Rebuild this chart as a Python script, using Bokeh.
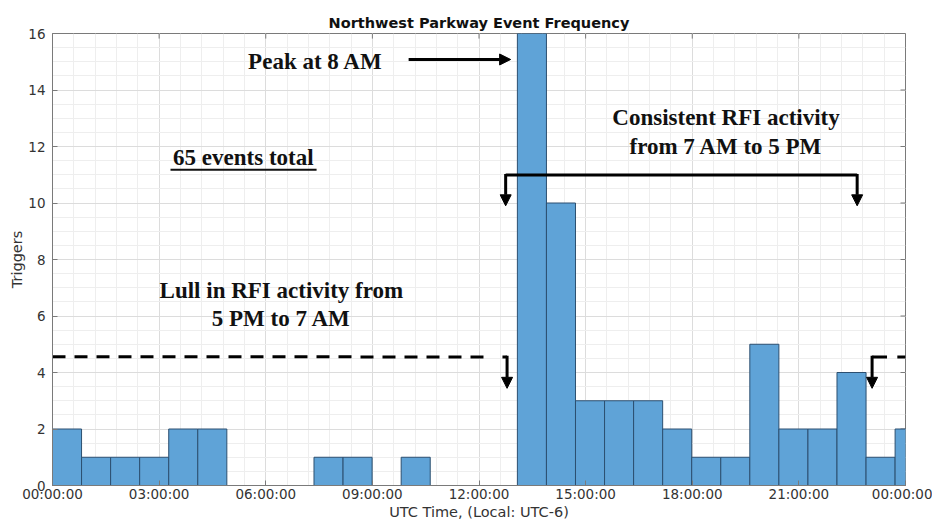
import numpy as np
from bokeh.plotting import figure
from bokeh.models import Range1d, FixedTicker, Label, Arrow, NormalHead
from bokeh.embed import file_html
from bokeh.resources import INLINE

# ---------------- data ----------------
counts = [2, 1, 1, 1, 2, 2, 0, 0, 0, 1, 1, 0, 1, 0, 0, 0,
          16, 10, 3, 3, 3, 2, 1, 1, 5, 2, 2, 4, 1, 2]
bin_width_hours = 0.8175
tick_hours = [0, 3, 6, 9, 12, 15, 18, 21, 24]
tick_labels = ["00:00:00", "03:00:00", "06:00:00", "09:00:00", "12:00:00",
               "15:00:00", "18:00:00", "21:00:00", "00:00:00"]
y_ticks = [0, 2, 4, 6, 8, 10, 12, 14, 16]

title_text = "Northwest Parkway Event Frequency"
x_label = "UTC Time, (Local: UTC-6)"
y_label = "Triggers"

lefts = [i * bin_width_hours for i in range(len(counts))]
rights = [(i + 1) * bin_width_hours for i in range(len(counts))]

AX = "#7a7a7a"
TXT = "#333333"

p = figure(width=932, height=522, output_backend="svg", toolbar_location=None,
           x_range=Range1d(0, 24), y_range=Range1d(0, 16),
           title=title_text, min_border_left=52, min_border_right=27,
           min_border_top=33, min_border_bottom=0)

p.title.align = "center"
p.title.text_font = "DejaVu Sans"
p.title.text_font_size = "14.5px"
p.title.text_font_style = "bold"
p.title.text_color = "#111111"
p.title.standoff = 6

p.outline_line_color = AX
p.outline_line_width = 1
p.background_fill_color = "white"
p.border_fill_color = "white"

xt = FixedTicker(ticks=tick_hours, minor_ticks=list(np.arange(0, 24.0001, 0.6)))
yt = FixedTicker(ticks=y_ticks, minor_ticks=list(np.arange(0, 16.0001, 0.5)))

p.xaxis.ticker = xt
p.yaxis.ticker = yt
p.xaxis.major_label_overrides = {h: l for h, l in zip(tick_hours, tick_labels)}

for ax in (p.xaxis[0], p.yaxis[0]):
    ax.axis_line_color = AX
    ax.major_tick_line_color = AX
    ax.major_tick_in = 5
    ax.major_tick_out = 0
    ax.minor_tick_in = 0
    ax.minor_tick_out = 0
    ax.major_label_text_font = "DejaVu Sans"
    ax.major_label_text_font_size = "13.5px"
    ax.major_label_text_color = TXT
    ax.axis_label_text_font = "DejaVu Sans"
    ax.axis_label_text_font_size = "14.5px"
    ax.axis_label_text_font_style = "normal"
    ax.axis_label_text_color = TXT

p.xaxis.axis_label = x_label
p.yaxis.axis_label = y_label
p.xaxis.major_label_standoff = 0
p.xaxis.axis_label_standoff = -1
p.yaxis.major_label_standoff = 7
p.yaxis.axis_label_standoff = 0

p.xgrid.grid_line_color = "#dcdcdc"
p.ygrid.grid_line_color = "#dcdcdc"
p.xgrid.minor_grid_line_color = "#eeeeee"
p.ygrid.minor_grid_line_color = "#eeeeee"

# box tick marks on top and right edges (from the tick lists)
p.segment(x0=tick_hours, y0=[16] * len(tick_hours), x1=tick_hours,
          y1=[16 - 0.18] * len(tick_hours), line_color=AX, line_width=1)
p.segment(x0=[24] * len(y_ticks), y0=y_ticks, x1=[24 - 0.14] * len(y_ticks),
          y1=y_ticks, line_color=AX, line_width=1)

# bars
p.quad(left=lefts, right=rights, bottom=0, top=counts,
       fill_color="#5fa3d7", line_color="#2c4f70", line_width=1)

# ---------------- annotations ----------------
FONT = "Liberation Serif"
FS = "23px"


def lab(x, y, t):
    p.add_layout(Label(x=x, y=y, text=t, text_font=FONT, text_font_size=FS,
                       text_font_style="bold", text_color="#111111",
                       text_align="center", text_baseline="middle"))


lab(7.40, 15.02, "Peak at 8 AM")
lab(18.95, 13.02, "Consistent RFI activity")
lab(18.95, 11.99, "from 7 AM to 5 PM")
lab(5.37, 11.62, "65 events total")
lab(6.44, 6.92, "Lull in RFI activity from")
lab(6.44, 5.92, "5 PM to 7 AM")

# underline
p.line([3.32, 7.43], [11.18, 11.18], line_color="#111111", line_width=2)


def arrow(x0, y0, x1, y1):
    p.add_layout(Arrow(x_start=x0, y_start=y0, x_end=x1, y_end=y1,
                       line_color="black", line_width=3,
                       end=NormalHead(size=11, line_color="black", fill_color="black",
                                      line_width=1)))


# peak arrow
arrow(10.02, 15.08, 12.89, 15.08)

# bracket 7 AM - 5 PM
p.line([12.75, 22.64], [10.99, 10.99], line_color="black", line_width=3)
arrow(12.75, 11.03, 12.75, 9.90)
arrow(22.64, 11.03, 22.64, 9.90)

# lull dashed line
p.line([0, 12.38], [4.56, 4.55], line_color="black", line_width=3, line_dash="13 9")
p.line([12.66, 12.79], [4.55, 4.55], line_color="black", line_width=3)
arrow(12.79, 4.59, 12.79, 3.44)
p.line([23.06, 23.48], [4.55, 4.55], line_color="black", line_width=3)
p.line([23.77, 24.0], [4.55, 4.55], line_color="black", line_width=3)
arrow(23.06, 4.59, 23.06, 3.44)

open("out.html", "w").write(file_html(p, INLINE))
